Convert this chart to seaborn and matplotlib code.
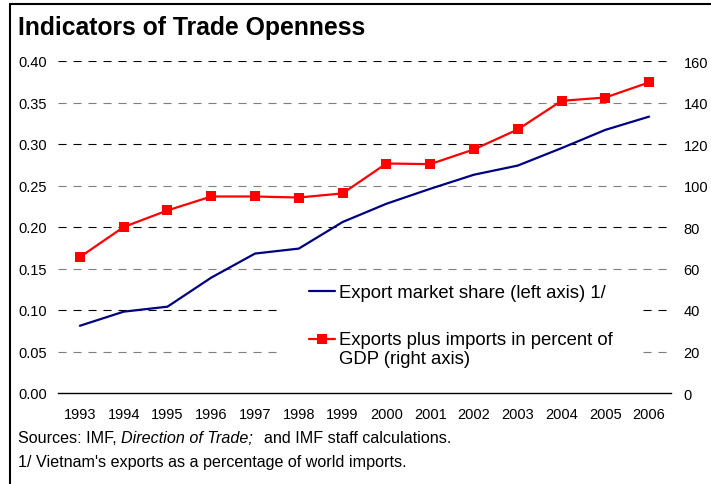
import matplotlib
matplotlib.use("Agg")
import matplotlib.pyplot as plt
import seaborn as sns
import numpy as np
import pandas as pd
from matplotlib.patches import Rectangle
from matplotlib.lines import Line2D

# ---------------- data ----------------
years = [1993, 1994, 1995, 1996, 1997, 1998, 1999, 2000, 2001, 2002, 2003, 2004, 2005, 2006]
year_labels = [str(y) for y in years]
export_share = [0.081, 0.098, 0.104, 0.139, 0.168, 0.174, 0.206, 0.228, 0.246, 0.263, 0.274, 0.295, 0.317, 0.333]
trade_gdp = [65.5, 80.0, 88.0, 94.7, 94.7, 94.2, 96.2, 110.6, 110.3, 117.4, 127.0, 140.8, 142.4, 149.7]
left_ticks = [0.00, 0.05, 0.10, 0.15, 0.20, 0.25, 0.30, 0.35, 0.40]
right_ticks = [0, 20, 40, 60, 80, 100, 120, 140, 160]
title = "Indicators of Trade Openness"
series_labels = ["Export market share (left axis) 1/",
                 "Exports plus imports in percent of\nGDP (right axis)"]
source_parts = ["Sources: IMF,", "Direction of Trade;", "and IMF staff calculations."]
note = "1/ Vietnam's exports as a percentage of world imports."

# ---------------- style ----------------
sns.set_style("white")
plt.rcParams["font.family"] = ["Liberation Sans", "DejaVu Sans"]
plt.rcParams["lines.scale_dashes"] = False
plt.rcParams["text.color"] = "black"
plt.rcParams["xtick.color"] = "black"
plt.rcParams["ytick.color"] = "black"
plt.rcParams["axes.labelcolor"] = "black"

W, H = 711, 485
fig = plt.figure(figsize=(W / 100, H / 100), dpi=100)


def fx(px):
    return px / W


def fy(py):
    return 1 - py / H


ax = fig.add_axes([fx(58), fy(394), (671 - 58) / W, (394 - 62) / H])
ax2 = ax.twinx()

df = pd.DataFrame({"year": years, "share": export_share, "trade": trade_gdp})
sns.lineplot(data=df, x="year", y="share", ax=ax, color="#000080",
             linewidth=1.6, legend=False)
sns.lineplot(data=df, x="year", y="trade", ax=ax2, color="#ff0000",
             linewidth=1.6, marker="s", markersize=6.8, markeredgewidth=0,
             legend=False)

ax.set_xlim(1992.5, 2006.5)
ax.set_ylim(0, 0.4)
ax2.set_ylim(0, 160)
for a in (ax, ax2):
    a.set_xlabel("")
    a.set_ylabel("")

# y ticks
ax.set_yticks(left_ticks)
ax.set_yticklabels([f"{v:.2f}" for v in left_ticks], fontsize=10.5)
ax.tick_params(axis="y", length=0, pad=8)
ax2.set_yticks(right_ticks)
ax2.set_yticklabels([str(v) for v in right_ticks], fontsize=10.5)
ax2.tick_params(axis="y", length=0, pad=9)

# x ticks: marks at category boundaries, labels at centres
bounds = [y - 0.5 for y in years] + [years[-1] + 0.5]
ax.set_xticks(bounds)
ax.set_xticklabels([])
ax.tick_params(axis="x", which="major", length=4, width=1, color="black", direction="out")
ax.set_xticks(years, minor=True)
ax.set_xticklabels(year_labels, minor=True, fontsize=10.5)
ax.tick_params(axis="x", which="minor", length=0, pad=10)

# spines
for s in ["top", "left", "right"]:
    ax.spines[s].set_visible(False)
for s in ax2.spines.values():
    s.set_visible(False)
ax.spines["bottom"].set_color("black")
ax.spines["bottom"].set_linewidth(1.0)

# dashed gridlines
ax.set_axisbelow(True)
ax.yaxis.grid(True, linestyle=(0, (5.8, 5.0)), linewidth=0.8)
for i, gl in enumerate(ax.get_ygridlines()):
    gl.set_color("#000000" if i % 2 == 0 else "#7f7f7f")
    if i == 0:
        gl.set_visible(False)

# white block behind the legend (interrupts the gridlines)
ax2.add_patch(Rectangle((fx(280), fy(376)), (641 - 280) / W, (376 - 275) / H,
                        transform=fig.transFigure, facecolor="white",
                        edgecolor="none", zorder=3))

leg = ax2.legend(handles=[ax.lines[0], ax2.lines[0]], labels=series_labels,
                 loc="upper left", bbox_to_anchor=(fx(309), fy(285)),
                 bbox_transform=fig.transFigure, frameon=False, fontsize=13.3,
                 handlelength=1.42, handletextpad=0.2, labelspacing=1.6,
                 borderpad=0, borderaxespad=0)
leg.set_zorder(5)
# align the red handle with the first line of its two-line label
red_handle = leg.legend_handles[1]
red_handle.set_ydata(np.asarray(red_handle.get_ydata()) + 7.3)

# title
fig.text(fx(18), fy(35), title, fontsize=17.8, fontweight="bold",
         ha="left", va="baseline")

# footnotes
renderer = fig.canvas.get_renderer()
fs = 11.6


def width_px(s, **kw):
    t = fig.text(0, 0, s, fontsize=fs, **kw)
    w = t.get_window_extent(renderer).width
    t.remove()
    return w


space = width_px("a a") - width_px("aa")
x = 18
yb = fy(443)
t = fig.text(fx(x), yb, source_parts[0], fontsize=fs, va="baseline")
x += t.get_window_extent(renderer).width + space
t = fig.text(fx(x), yb, source_parts[1], fontsize=fs, va="baseline", style="italic")
x += t.get_window_extent(renderer).width + 2.5 * space
fig.text(fx(x), yb, source_parts[2], fontsize=fs, va="baseline")
fig.text(fx(18), fy(467), note, fontsize=fs, va="baseline")

# outer frame (left and top edges)
fig.add_artist(Line2D([fx(9.5), fx(9.5)], [0, fy(5)], transform=fig.transFigure,
                      color="black", linewidth=1.5))
fig.add_artist(Line2D([fx(9.5), 1], [fy(5), fy(5)], transform=fig.transFigure,
                      color="black", linewidth=1.5))

fig.savefig("out.png", dpi=100)
